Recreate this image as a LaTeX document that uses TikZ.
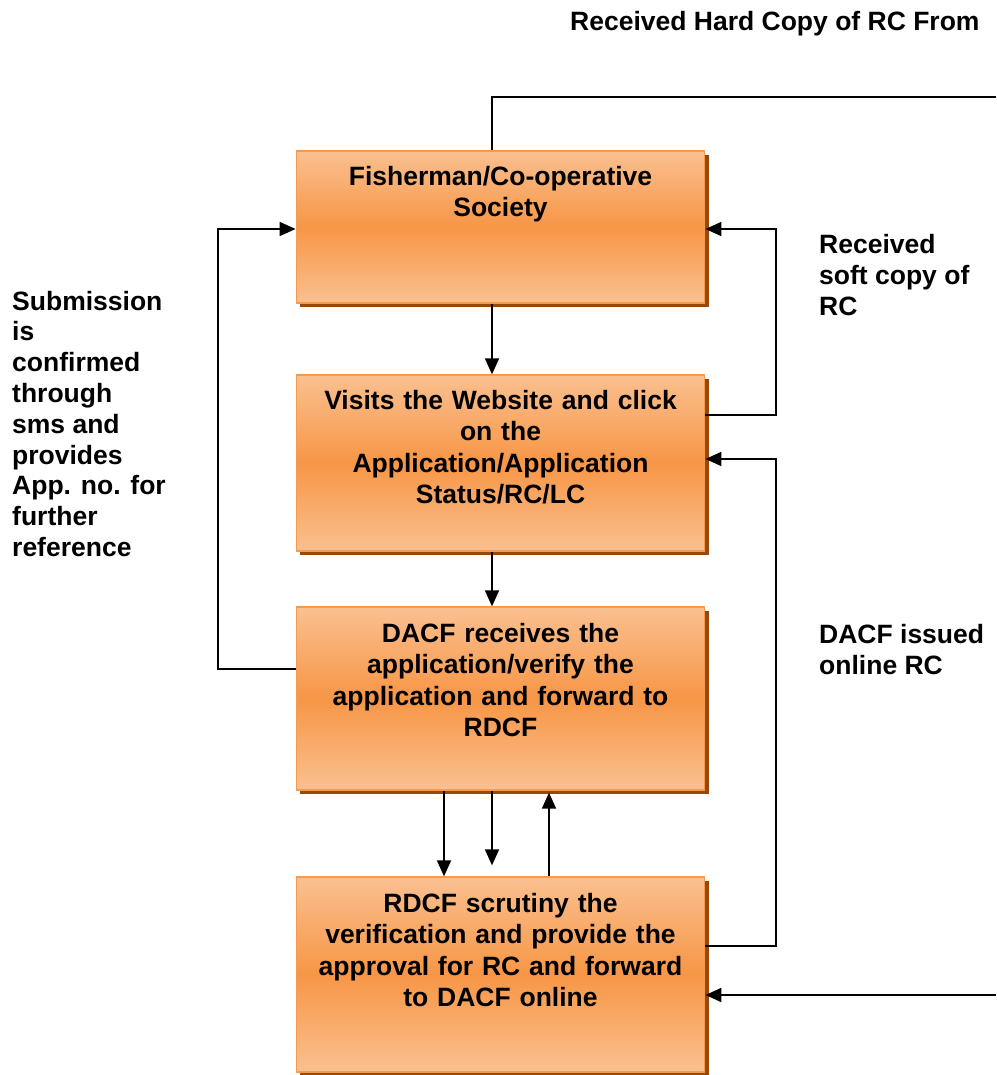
\documentclass[tikz,border=0pt]{standalone}
\usepackage{fontspec}
\setmainfont{Liberation Sans}
\usetikzlibrary{arrows.meta,shadows,calc}
\definecolor{boxlight}{HTML}{FAC090}
\definecolor{boxdark}{HTML}{F79646}
\definecolor{boxline}{HTML}{F59A4E}
\definecolor{shadowc}{HTML}{984807}
\tikzset{
  procbox/.style={rectangle, minimum width=408.5pt, inner sep=0pt,
    draw=boxline, line width=1.3pt,
    top color=boxlight, bottom color=boxlight, middle color=boxdark,
    drop shadow={shadow xshift=4pt, shadow yshift=-4pt, fill=shadowc, opacity=1}},
  boxtext/.style={anchor=base, align=center, text width=404pt, inner sep=0pt,
    font=\fontsize{26.5}{31.5}\selectfont\bfseries},
  lbl/.style={anchor=base west, align=left, inner sep=0pt,
    font=\fontsize{26.5}{31}\selectfont\bfseries},
  arr/.style={line width=1.8pt, -{Triangle[length=16pt,width=14pt]}},
  ln/.style={line width=1.8pt}
}
\begin{document}
\begin{tikzpicture}[x=1pt,y=-1pt]
\useasboundingbox (0,0) rectangle (996,1075);
% boxes
\node[procbox, minimum height=152pt] (b1) at (500.5,227) {};
\node[procbox, minimum height=176pt] (b2) at (500.5,463) {};
\node[procbox, minimum height=183pt] (b3) at (500.5,698.5) {};
\node[procbox, minimum height=195pt] (b4) at (500.5,974.5) {};
% box texts
\node[boxtext] (t1) at ($(b1.north)+(0,35)$) {Fisherman/Co-operative\\Society};
\node[boxtext] (t2) at ($(b2.north)+(0,35)$) {Visits the Website and click\\on the\\Application/Application\\Status/RC/LC};
\node[boxtext] (t3) at ($(b3.north)+(0,36)$) {DACF receives the\\application/verify the\\application and forward to\\RDCF};
\node[boxtext] (t4) at ($(b4.north)+(0,36)$) {RDCF scrutiny the\\verification and provide the\\approval for RC and forward\\to DACF online};
% labels (base = baseline of last line)
\node[lbl] (top) at (570,31) {Received Hard Copy of RC From};
\node[lbl] (soft) at (819,315) {Received\\soft copy of\\RC};
\node[lbl] (issued) at (819,674) {DACF issued\\online RC};
\node[lbl, font=\fontsize{26.5}{30.8}\selectfont\bfseries] (sub) at (12,556.5) {Submission\\is\\confirmed\\through\\sms and\\provides\\App. no. for\\further\\reference};
% helper coordinates
\coordinate (mid) at (492,0);
\coordinate (xa) at (444,0);
\coordinate (xc) at (549,0);
\coordinate (rc) at (776,0);
\coordinate (lc) at (218,0);
\coordinate (hardTop) at (996,97);
\coordinate (hardBot) at (996,995);
\coordinate (b2o) at ($(b2.east)+(0,-48)$);
\coordinate (b4o) at ($(b4.east)+(0,-28.5)$);
\coordinate (b3o) at ($(b3.west)+(0,-29.5)$);
% connectors
\draw[ln] (b1.north -| mid) |- (hardTop);
\draw[arr] (hardBot) -- ($(b4.east)+(0,20.5)$);
\draw[arr] (b1.south -| mid) -- (b2.north -| mid);
\draw[arr] (b2.south -| mid) -- (b3.north -| mid);
\draw[arr] (b2o) -- (b2o -| rc) |- ($(b1.east)+(0,2)$);
\draw[arr] (b4o) -- (b4o -| rc) |- ($(b2.east)+(0,-4)$);
\draw[arr] (b3o) -- (b3o -| lc) |- ($(b1.west)+(0,2)$);
\draw[arr] (b3.south -| xa) -- (b4.north -| xa);
\draw[arr] (b3.south -| mid) -- ($(b4.north -| mid)+(0,-11)$);
\draw[arr] (b4.north -| xc) -- ($(b3.south -| xc)+(0,2)$);
\end{tikzpicture}
\end{document}
